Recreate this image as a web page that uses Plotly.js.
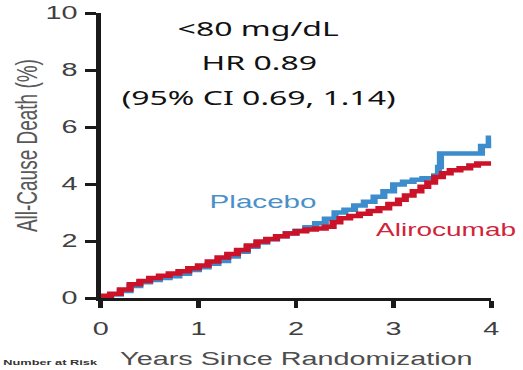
<!DOCTYPE html>
<html>
<head>
<meta charset="utf-8">
<script src="https://cdn.plot.ly/plotly-3.0.1.min.js"></script>
<style>
  html, body { margin: 0; padding: 0; background: #ffffff; overflow: hidden; }
  /* The chart is laid out narrow and widened horizontally */
  #chart { width: 327px; height: 370px; transform: scaleX(1.6); transform-origin: 0 0; }
</style>
</head>
<body>
<div id="chart"></div>
<script>
// Kaplan-Meier style cumulative all-cause death, LDL <80 mg/dL subgroup
const placeboYears = [0, 0.1, 0.2, 0.3, 0.4, 0.5, 0.6, 0.7, 0.8, 0.9, 1.0, 1.1, 1.2, 1.3, 1.4, 1.5, 1.6, 1.7, 1.8, 1.9,
  2.0, 2.1, 2.2, 2.3, 2.4, 2.5, 2.6, 2.7, 2.8, 2.9, 3.0, 3.1, 3.2, 3.3, 3.42, 3.46, 3.48, 3.9, 3.98, 4.0];
const placeboDeath = [0.05, 0.12, 0.25, 0.42, 0.55, 0.63, 0.7, 0.76, 0.85, 0.98, 1.08, 1.2, 1.3, 1.46, 1.62, 1.8, 1.95, 2.06, 2.17, 2.27,
  2.36, 2.48, 2.62, 2.78, 3.0, 3.1, 3.25, 3.38, 3.55, 3.75, 3.98, 4.08, 4.15, 4.2, 4.3, 4.6, 5.07, 5.33, 5.62, 5.62];

const aliroYears = [0, 0.1, 0.2, 0.3, 0.4, 0.5, 0.6, 0.7, 0.8, 0.9, 1.0, 1.1, 1.2, 1.3, 1.4, 1.5, 1.6, 1.7, 1.8, 1.9,
  2.0, 2.1, 2.2, 2.3, 2.38, 2.45, 2.55, 2.65, 2.75, 2.85, 2.95, 3.05, 3.12, 3.2, 3.28, 3.35, 3.42, 3.5, 3.58, 3.68, 3.78, 3.86, 4.0];
const aliroDeath = [0.08, 0.15, 0.3, 0.48, 0.6, 0.7, 0.78, 0.86, 0.94, 1.04, 1.14, 1.28, 1.42, 1.54, 1.68, 1.84, 1.98, 2.07, 2.17, 2.26,
  2.34, 2.4, 2.44, 2.5, 2.66, 2.8, 2.88, 2.96, 3.05, 3.15, 3.3, 3.45, 3.6, 3.75, 3.9, 4.05, 4.25, 4.38, 4.48, 4.55, 4.65, 4.72, 4.72];

const xTicks = [0, 1, 2, 3, 4];
const yTicks = [0, 2, 4, 6, 8, 10];
const statLines = ['<80 mg/dL', 'HR 0.89', '(95% CI 0.69, 1.14)'];

const BLUE = '#3d8ccb';
const RED = '#cc1229';
const SANS = 'Arial, "Liberation Sans", sans-serif';

const traces = [
  { x: placeboYears, y: placeboDeath, name: 'Placebo', mode: 'lines',
    line: { shape: 'hv', color: BLUE, width: 4.5 } },
  { x: aliroYears, y: aliroDeath, name: 'Alirocumab', mode: 'lines',
    line: { shape: 'hv', color: RED, width: 4.5 } }
];

const statY = [9.47, 8.28, 7.05];
const annotations = statLines.map((t, i) => ({
  x: 1.62, y: statY[i], xref: 'x', yref: 'y', text: t, showarrow: false,
  xanchor: 'center', yanchor: 'middle',
  font: { family: '"Noto Sans", sans-serif', size: 20, color: '#111111' }
}));

annotations.push(
  { x: 1.08, y: 3.37, xref: 'x', yref: 'y', text: 'Placebo', showarrow: false,
    xanchor: 'left', yanchor: 'middle', font: { family: SANS, size: 18.5, color: '#4a90c8' } },
  { x: 2.79, y: 2.39, xref: 'x', yref: 'y', text: 'Alirocumab', showarrow: false,
    xanchor: 'left', yanchor: 'middle', font: { family: SANS, size: 17.5, color: '#d0243a' } },
  { x: 0.5, y: -0.215, xref: 'paper', yref: 'paper', text: 'Years Since Randomization', showarrow: false,
    xanchor: 'center', yanchor: 'middle', font: { family: SANS, size: 18, color: '#4d4d4d' } },
  { x: -0.19, y: 0.535, xref: 'paper', yref: 'paper', text: 'All-Cause Death (%)', showarrow: false,
    textangle: -90, xanchor: 'center', yanchor: 'middle', font: { family: SANS, size: 19, color: '#595959' } },
  { x: -0.257, y: -0.249, xref: 'paper', yref: 'paper', text: '<b>Number at Risk</b>', showarrow: false,
    xanchor: 'left', yanchor: 'bottom', font: { family: SANS, size: 8, color: '#333333' } }
);

const layout = {
  width: 327, height: 370,
  margin: { l: 63, r: 20, t: 13, b: 72 },
  paper_bgcolor: '#ffffff', plot_bgcolor: '#ffffff',
  showlegend: false,
  xaxis: {
    range: [0, 4], tickvals: xTicks, ticktext: xTicks.map(String),
    showgrid: false, zeroline: false, showline: true, linecolor: '#1a1a1a', linewidth: 3,
    ticks: 'outside', ticklen: 7, tickwidth: 3, tickcolor: '#1a1a1a', ticklabelstandoff: 5,
    tickfont: { family: SANS, size: 18, color: '#404040' }, fixedrange: true
  },
  yaxis: {
    range: [0, 10], tickvals: yTicks, ticktext: yTicks.map(String),
    showgrid: false, zeroline: false, showline: true, linecolor: '#1a1a1a', linewidth: 3,
    ticks: 'outside', ticklen: 7, tickwidth: 3, tickcolor: '#1a1a1a', ticklabelstandoff: 1,
    tickfont: { family: SANS, size: 18, color: '#404040' }, fixedrange: true
  },
  annotations: annotations
};

Plotly.newPlot('chart', traces, layout, { displayModeBar: false, staticPlot: true });
</script>
</body>
</html>
